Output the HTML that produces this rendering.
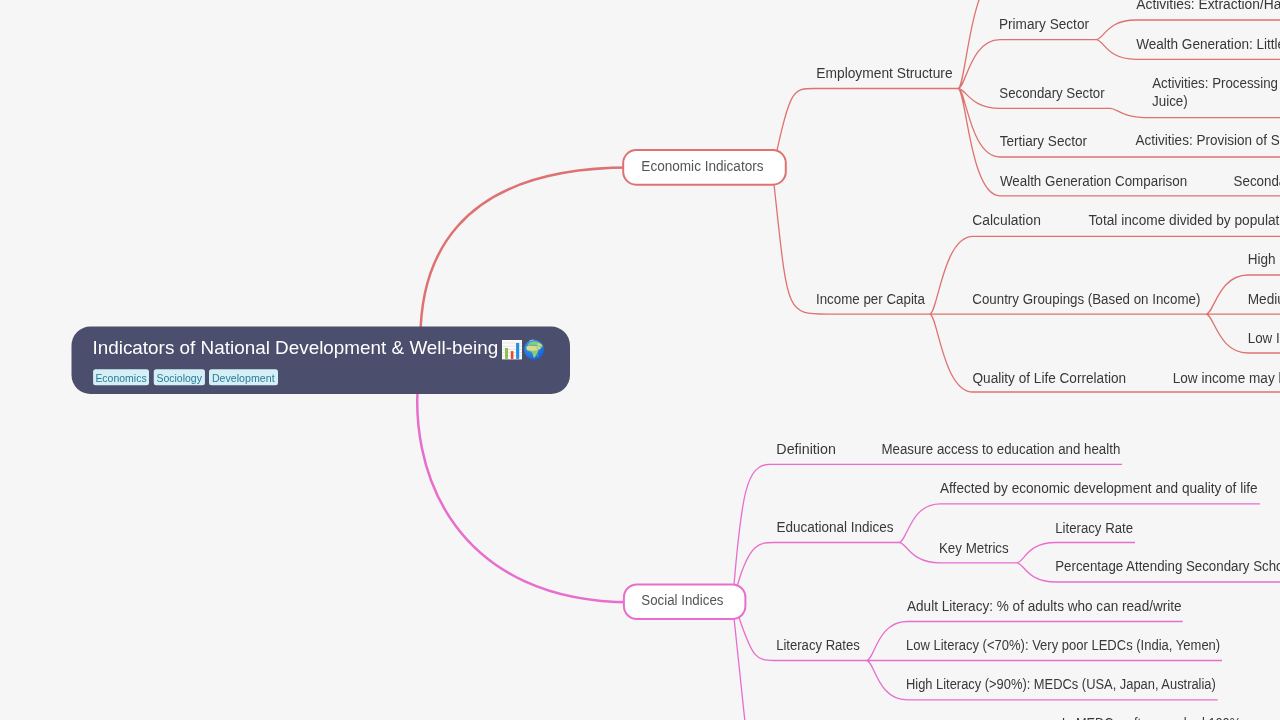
<!DOCTYPE html>
<html><head><meta charset="utf-8"><style>
html,body{margin:0;padding:0;background:#f6f6f6;width:1280px;height:720px;overflow:hidden}
svg{display:block;font-family:"Liberation Sans",sans-serif;will-change:transform}
</style></head><body>
<svg width="1280" height="720" viewBox="0 0 1280 720">
<rect width="1280" height="720" fill="#f6f6f6"/>
<path d="M421.1 360C414.1 259.9 455.7 167.6 630 167.6" stroke="#de7272" stroke-width="2.5" fill="none"/>
<path d="M420.4 360C402.1 479 462.3 602.2 630.9 602.2" stroke="#e86ecd" stroke-width="2.5" fill="none"/>
<path d="M770.1 181.3C790.5 88.5 790.5 88.5 815 88.5L958 88.5 M772.5 170.2C788.2 314.1 784.5 314.1 827.9 314.1L930 314.1 M958.0 88.5C966.0 88.5 970.0 -25.0 1000.0 -25.0 M958.0 88.5C966.0 88.5 970.0 39.6 1000.0 39.6L1096 39.6 M958.0 88.5C966.0 88.5 970.0 108.4 1000.0 108.4L1110 108.4 M958.0 88.5C966.0 88.5 970.0 157.0 1000.0 157.0L1280 157 M958.0 88.5C966.0 88.5 970.0 195.8 1000.0 195.8L1280 195.8 M1096.0 39.6C1104.0 39.6 1106.0 20.0 1136.0 20.0L1280 20 M1096.0 39.6C1104.0 39.6 1106.0 59.3 1136.0 59.3L1280 59.3 M1110.0 108.4C1118.0 108.4 1120.0 117.6 1150.0 117.6L1280 117.6 M929.7 314.1C937.7 314.1 943.0 236.3 973.0 236.3L1280 236.3 M929.7 314.1L1280 314.1 M929.7 314.1C937.7 314.1 943.0 392.0 973.0 392.0L1280 392 M1206.0 314.1C1214.0 314.1 1218.0 275.0 1248.0 275.0L1280 275 M1206.0 314.1C1214.0 314.1 1218.0 353.0 1248.0 353.0L1280 353" stroke="#de7272" stroke-width="1.3" fill="none"/>
<path d="M734 585C741.6 494.3 746.7 464.3 769.7 464.3L1122 464.3 M737.5 585C749.8 542.5 760.2 542.5 773.6 542.5L899 542.5 M738.5 616C752.4 657.7 755.8 660.5 774.5 660.5L867 660.5 M733.8 616L745.3 725 M899.0 542.5C907.0 542.5 910.0 503.8 940.0 503.8L1260 503.8 M899.0 542.5C907.0 542.5 910.0 562.8 940.0 562.8L1016.5 562.8 M1016.5 562.8C1024.5 562.8 1026.0 542.5 1056.0 542.5L1135 542.5 M1016.5 562.8C1024.5 562.8 1026.0 582.0 1056.0 582.0L1280 582 M866.5 660.5C874.5 660.5 877.0 621.5 907.0 621.5L1182.7 621.5 M866.5 660.5L1222 660.5 M866.5 660.5C874.5 660.5 877.0 699.8 907.0 699.8L1217.7 699.8" stroke="#e86ecd" stroke-width="1.3" fill="none"/>
<rect x="623.2" y="150.1" width="162.6" height="34.6" rx="13" fill="#fff" stroke="#de7272" stroke-width="2"/>
<rect x="623.9" y="584.4" width="121.5" height="34.6" rx="13" fill="#fff" stroke="#e86ecd" stroke-width="2"/>
<text x="641.33" y="170.70" font-size="14" fill="#555" textLength="122.20" lengthAdjust="spacingAndGlyphs">Economic Indicators</text>
<text x="641.33" y="604.70" font-size="14" fill="#555" textLength="82.12" lengthAdjust="spacingAndGlyphs">Social Indices</text>
<rect x="71.5" y="326.5" width="498.5" height="67.5" rx="19" fill="#4b4e6c"/>
<text x="92.51" y="354.00" font-size="19" fill="#fff" textLength="405.74" lengthAdjust="spacingAndGlyphs">Indicators of National Development &amp; Well-being</text>
<rect x="93.1" y="369.3" width="55.9" height="15.9" rx="2.5" fill="#d5eff7"/>
<text x="95.39" y="382.00" font-size="11" fill="#2a7b98" textLength="51.24" lengthAdjust="spacingAndGlyphs">Economics</text>
<rect x="153.75" y="369.3" width="51.2" height="15.9" rx="2.5" fill="#d5eff7"/>
<text x="156.42" y="382.00" font-size="11" fill="#2a7b98" textLength="45.57" lengthAdjust="spacingAndGlyphs">Sociology</text>
<rect x="209" y="369.3" width="69.0" height="15.9" rx="2.5" fill="#d5eff7"/>
<text x="211.93" y="382.00" font-size="11" fill="#2a7b98" textLength="62.68" lengthAdjust="spacingAndGlyphs">Development</text>
<text x="816.32" y="77.80" font-size="14" fill="#383838" textLength="136.27" lengthAdjust="spacingAndGlyphs">Employment Structure</text>
<text x="815.96" y="303.90" font-size="14" fill="#383838" textLength="109.03" lengthAdjust="spacingAndGlyphs">Income per Capita</text>
<text x="776.38" y="453.75" font-size="14" fill="#383838" textLength="59.50" lengthAdjust="spacingAndGlyphs">Definition</text>
<text x="776.44" y="532.00" font-size="14" fill="#383838" textLength="117.06" lengthAdjust="spacingAndGlyphs">Educational Indices</text>
<text x="776.17" y="650.00" font-size="14" fill="#383838" textLength="83.68" lengthAdjust="spacingAndGlyphs">Literacy Rates</text>
<text x="998.93" y="29.20" font-size="14" fill="#383838" textLength="90.09" lengthAdjust="spacingAndGlyphs">Primary Sector</text>
<text x="999.34" y="98.00" font-size="14" fill="#383838" textLength="105.34" lengthAdjust="spacingAndGlyphs">Secondary Sector</text>
<text x="999.71" y="146.25" font-size="14" fill="#383838" textLength="87.28" lengthAdjust="spacingAndGlyphs">Tertiary Sector</text>
<text x="999.90" y="185.50" font-size="14" fill="#383838" textLength="187.25" lengthAdjust="spacingAndGlyphs">Wealth Generation Comparison</text>
<text x="972.31" y="225.00" font-size="14" fill="#383838" textLength="68.55" lengthAdjust="spacingAndGlyphs">Calculation</text>
<text x="972.33" y="303.75" font-size="14" fill="#383838" textLength="228.00" lengthAdjust="spacingAndGlyphs">Country Groupings (Based on Income)</text>
<text x="972.52" y="382.50" font-size="14" fill="#383838" textLength="153.62" lengthAdjust="spacingAndGlyphs">Quality of Life Correlation</text>
<text x="881.45" y="453.75" font-size="14" fill="#383838" textLength="238.89" lengthAdjust="spacingAndGlyphs">Measure access to education and health</text>
<text x="940.00" y="493.25" font-size="14" fill="#383838" textLength="317.59" lengthAdjust="spacingAndGlyphs">Affected by economic development and quality of life</text>
<text x="938.95" y="552.50" font-size="14" fill="#383838" textLength="69.80" lengthAdjust="spacingAndGlyphs">Key Metrics</text>
<text x="907.00" y="610.90" font-size="14" fill="#383838" textLength="274.63" lengthAdjust="spacingAndGlyphs">Adult Literacy: % of adults who can read/write</text>
<text x="905.98" y="650.00" font-size="14" fill="#383838" textLength="314.23" lengthAdjust="spacingAndGlyphs">Low Literacy (&lt;70%): Very poor LEDCs (India, Yemen)</text>
<text x="905.99" y="689.30" font-size="14" fill="#383838" textLength="309.82" lengthAdjust="spacingAndGlyphs">High Literacy (&gt;90%): MEDCs (USA, Japan, Australia)</text>
<text x="1055.21" y="532.50" font-size="14" fill="#383838" textLength="77.84" lengthAdjust="spacingAndGlyphs">Literacy Rate</text>
<text x="1152.01" y="105.80" font-size="14" fill="#383838" textLength="35.80" lengthAdjust="spacingAndGlyphs">Juice)</text>
<text x="1152.20" y="87.80" font-size="14" fill="#383838" textLength="125.83" lengthAdjust="spacingAndGlyphs">Activities: Processing</text>
<text x="1061.82" y="728.00" font-size="14" fill="#383838" textLength="179.22" lengthAdjust="spacingAndGlyphs">In MEDCs, often reached 100%</text>
<text x="1136.25" y="9.00" font-size="14" fill="#383838" textLength="295.08" lengthAdjust="spacingAndGlyphs">Activities: Extraction/Harvesting of raw materials</text>
<text x="1136.15" y="48.75" font-size="14" fill="#383838" textLength="226.69" lengthAdjust="spacingAndGlyphs">Wealth Generation: Little value added</text>
<text x="1135.60" y="145.40" font-size="14" fill="#383838" textLength="186.91" lengthAdjust="spacingAndGlyphs">Activities: Provision of Services</text>
<text x="1233.58" y="185.50" font-size="14" fill="#383838" textLength="243.47" lengthAdjust="spacingAndGlyphs">Secondary sector generates more wealth</text>
<text x="1088.46" y="225.00" font-size="14" fill="#383838" textLength="209.17" lengthAdjust="spacingAndGlyphs">Total income divided by population</text>
<text x="1247.69" y="264.25" font-size="14" fill="#383838" textLength="75.92" lengthAdjust="spacingAndGlyphs">High Income</text>
<text x="1247.68" y="303.75" font-size="14" fill="#383838" textLength="97.09" lengthAdjust="spacingAndGlyphs">Medium Income</text>
<text x="1247.70" y="343.00" font-size="14" fill="#383838" textLength="72.19" lengthAdjust="spacingAndGlyphs">Low Income</text>
<text x="1172.68" y="382.50" font-size="14" fill="#383838" textLength="257.05" lengthAdjust="spacingAndGlyphs">Low income may lead to poor quality of life</text>
<text x="1055.21" y="571.25" font-size="14" fill="#383838" textLength="238.61" lengthAdjust="spacingAndGlyphs">Percentage Attending Secondary School</text>
<g transform="translate(502,340)">
<rect x="0" y="0" width="20" height="19.4" fill="#fafafa"/>
<g stroke="#dcdcdc" stroke-width="0.7"><line x1="0" y1="3" x2="20" y2="3"/><line x1="0" y1="6.2" x2="20" y2="6.2"/><line x1="0" y1="9.4" x2="20" y2="9.4"/><line x1="0" y1="12.6" x2="20" y2="12.6"/><line x1="0" y1="15.8" x2="20" y2="15.8"/></g>
<rect x="3" y="8" width="3" height="10.9" fill="#8cc152"/>
<rect x="8.8" y="11.1" width="2.6" height="7.8" fill="#f0442c"/>
<rect x="14.1" y="3" width="3.1" height="15.9" fill="#1e90e8"/>
</g>
<defs><radialGradient id="gl" cx="0.35" cy="0.3" r="0.75"><stop offset="0" stop-color="#3aa0f0"/><stop offset="1" stop-color="#1a5fd0"/></radialGradient></defs>
<g transform="translate(524,339.7)">
<circle cx="10.1" cy="10" r="10.1" fill="url(#gl)"/>
<path d="M2.3 8.5L2.6 7L3.6 6.2L4.5 5.6L4.2 4.5L5.5 3.2L7.5 2.2L10 1.6L13 1.9L16 3.2L18.2 5L18.8 6.8L17.5 7.8L16.3 9.2L15.2 9.8L14.2 10.8L13.8 12.6L12.8 14.6L11.5 16.6L10.3 18.2L9.4 17.4L8.8 15.2L8.4 13.4L7.2 12L5.8 11.5L4 11.2L2.8 10.3Z" fill="#84d07a"/>
<path d="M2.6 7.2L4 6.2L7 6.3L10 6.5L12.5 6.6L14.5 6.8L16.2 7.6L16 9.2L14.5 10L12.5 10.5L10 11L7 10.8L4.5 10.4L3 9.8L2.5 8.6Z" fill="#e2d98e"/>
<path d="M13.8 3.6L16.8 4.2L17.6 6L15.5 6.3L13.5 5.2Z" fill="#d8d88a"/>
<path d="M5 5.6C7.5 5.2 10.5 5.5 13 5.9M13 7.2L14.6 10.3" stroke="#3f95ea" stroke-width="0.6" fill="none"/>
<path d="M13.2 15.2L14 14.8L13.8 16.6L13.2 16.8Z" fill="#84d07a"/>
<path d="M5.2 1.6C6.6 0.7 8.2 0.3 9.5 0.4" stroke="#cfe8ff" stroke-width="0.9" fill="none" opacity="0.8"/>
</g>
</svg>
</body></html>
